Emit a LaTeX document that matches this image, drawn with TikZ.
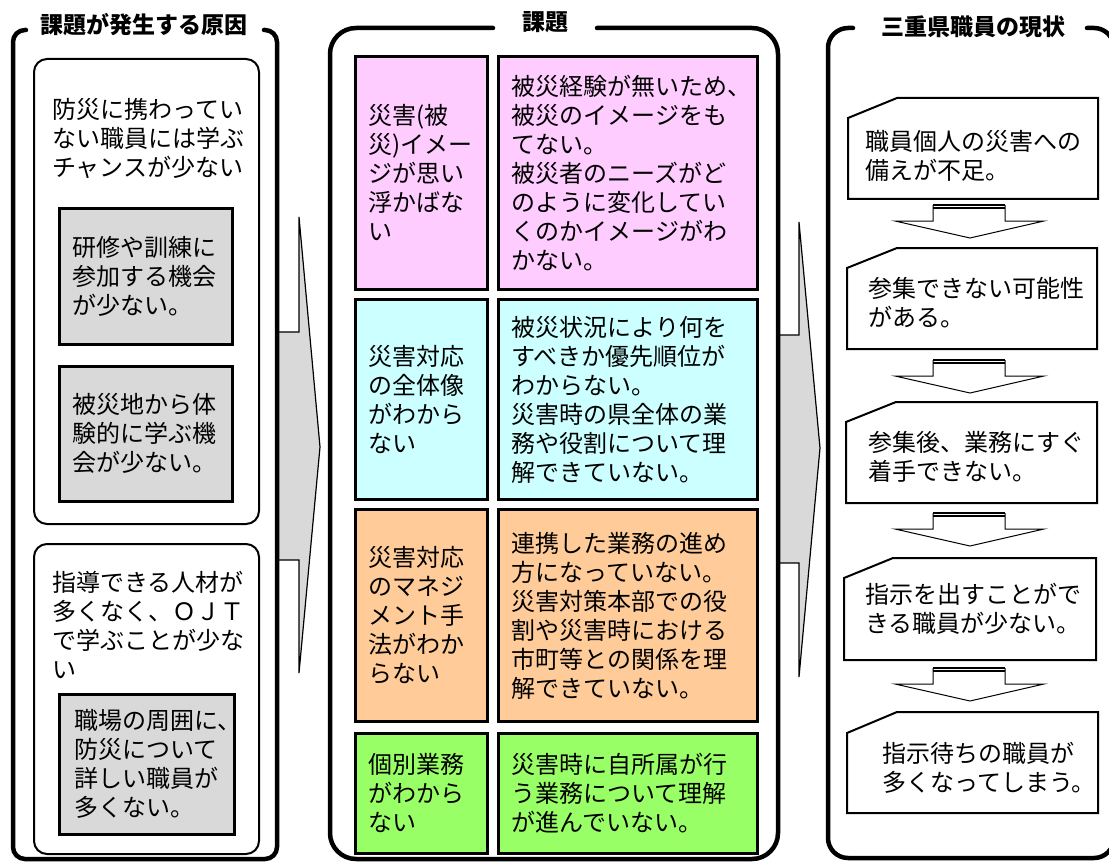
\documentclass[tikz,border=0pt]{standalone}
\usepackage{fontspec}
\setmainfont{Noto Sans CJK JP}
\definecolor{pinkc}{HTML}{FFCCFF}
\definecolor{cyanc}{HTML}{CCFFFF}
\definecolor{orangec}{HTML}{FFCC99}
\definecolor{greenc}{HTML}{99FF66}
\definecolor{grayc}{HTML}{D9D9D9}
\begin{document}
\begin{tikzpicture}[x=1pt,y=-1pt,
  every node/.style={font=\fontsize{24}{29}\selectfont},
  panel/.style={line width=4.5pt, line cap=round},
  paneltitle/.style={font=\bfseries\fontsize{23}{28}\selectfont, inner sep=0pt},
  innerbox/.style={draw, line width=2pt, rounded corners=13pt, anchor=north west, inner sep=0pt},
  graybox/.style={draw, line width=2.7pt, fill=grayc, anchor=north west, align=left, inner ysep=0pt},
  cell/.style={draw, line width=3pt, anchor=north west, align=left, inner xsep=13pt, inner ysep=0pt},
  txt/.style={align=left, inner sep=0pt, anchor=west},
  statebox/.style={draw, line width=2pt, fill=white},
  bigarrow/.style={draw, line width=1.2pt, fill=grayc},
  downarrow/.style={draw, line width=1pt, fill=white}
]
\useasboundingbox (0,0) rectangle (1109,864);

% big gray arrows
\draw[bigarrow] (277,332) -- (299,332) -- (299,217) -- (320,447) -- (299,673) -- (299,560) -- (277,560) -- cycle;
\draw[bigarrow] (777,335) -- (799,335) -- (799,222) -- (820,448) -- (799,677) -- (799,563) -- (777,563) -- cycle;

% panels
\draw[panel, rounded corners=12pt] (26,30) -- (13,30) -- (13,859) -- (277,859) -- (277,30) -- (264,30);
\draw[panel, rounded corners=26pt] (493,28) -- (330,28) -- (330,859) -- (778,859) -- (778,28) -- (597,28);
\draw[panel, rounded corners=20pt] (853,28) -- (828,28) -- (828,858) -- (1114,858) -- (1114,28) -- (1087,28);

\node[paneltitle] (t1) at (144,25) {課題が発生する原因};
\node[paneltitle] (t2) at (545,22) {課題};
\node[paneltitle] (t3) at (973,27) {三重県職員の現状};

% left panel
\node[innerbox, minimum width=225pt, minimum height=465pt] (boxA) at (33,58) {};
\node[innerbox, minimum width=225pt, minimum height=310pt] (boxB) at (33,543) {};
\node[txt] (tA) at (52,138) {防災に携わってい\\ない職員には学ぶ\\チャンスが少ない};
\node[graybox, minimum width=173pt, minimum height=136pt, inner xsep=13pt, text width=147pt] (g1) at (58,207) {研修や訓練に\\参加する機会\\が少ない。};
\node[graybox, minimum width=173pt, minimum height=135pt, inner xsep=13pt, text width=147pt] (g2) at (58,365) {被災地から体\\験的に学ぶ機\\会が少ない。};
\node[txt] (tB) at (52,625) {指導できる人材が\\多くなく、ＯＪＴ\\で学ぶことが少な\\い};
\node[graybox, minimum width=175pt, minimum height=140pt, inner xsep=15pt, text width=145pt] (g3) at (58,693) {職場の周囲に、\\防災について\\詳しい職員が\\多くない。};

% middle panel cells
\node[cell, fill=pinkc, minimum width=132pt, minimum height=233pt, text width=106pt] (c1l) at (354,55) {災害(被\\災)イメー\\ジが思い\\浮かばな\\い};
\node[cell, fill=pinkc, minimum width=259pt, minimum height=233pt, text width=233pt] (c1r) at (497,55) {被災経験が無いため、\\被災のイメージをも\\てない。\\被災者のニーズがど\\のように変化してい\\くのかイメージがわ\\かない。};
\node[cell, fill=cyanc, minimum width=132pt, minimum height=200pt, text width=106pt] (c2l) at (354,298) {災害対応\\の全体像\\がわから\\ない};
\node[cell, fill=cyanc, minimum width=259pt, minimum height=200pt, text width=233pt] (c2r) at (497,298) {被災状況により何を\\すべきか優先順位が\\わからない。\\災害時の県全体の業\\務や役割について理\\解できていない。};
\node[cell, fill=orangec, minimum width=132pt, minimum height=212pt, text width=106pt] (c3l) at (354,508) {災害対応\\のマネジ\\メント手\\法がわか\\らない};
\node[cell, fill=orangec, minimum width=259pt, minimum height=212pt, text width=233pt] (c3r) at (497,508) {連携した業務の進め\\方になっていない。\\災害対策本部での役\\割や災害時における\\市町等との関係を理\\解できていない。};
\node[cell, fill=greenc, minimum width=132pt, minimum height=120pt, text width=106pt] (c4l) at (354,732) {個別業務\\がわから\\ない};
\node[cell, fill=greenc, minimum width=259pt, minimum height=120pt, text width=233pt] (c4r) at (497,732) {災害時に自所属が行\\う業務について理解\\が進んでいない。};

% right panel boxes
\draw[statebox] (848,118) -- (897,98) -- (1098,98) -- (1098,199) -- (848,199) -- cycle;
\draw[statebox] (847,268) -- (897,248) -- (1097,248) -- (1097,349) -- (847,349) -- cycle;
\draw[statebox] (846,422) -- (896,402) -- (1097,402) -- (1097,503) -- (846,503) -- cycle;
\draw[statebox] (844,578) -- (893,558) -- (1096,558) -- (1096,660) -- (844,660) -- cycle;
\draw[statebox] (847,733) -- (897,712) -- (1098,712) -- (1098,813) -- (847,813) -- cycle;
\node[txt] (s1) at (865,156) {職員個人の災害への\\備えが不足。};
\node[txt] (s2) at (868,303) {参集できない可能性\\がある。};
\node[txt] (s3) at (868,457) {参集後、業務にすぐ\\着手できない。};
\node[txt] (s4) at (865,609) {指示を出すことがで\\きる職員が少ない。};
\node[txt] (s5) at (882,768) {指示待ちの職員が\\多くなってしまう。};

% down arrows
\foreach \s in {205,360,513,668} {
  \draw[downarrow] (933,\s) -- (933,\s+16) -- (895,\s+16) -- (970,\s+33) -- (1044,\s+16) -- (1005,\s+16) -- (1005,\s);
  \draw[line width=1.3pt] (933,\s) -- (1005,\s);
  \draw[line width=1.3pt] (933,\s+3) -- (1005,\s+3);
}
\end{tikzpicture}
\end{document}
